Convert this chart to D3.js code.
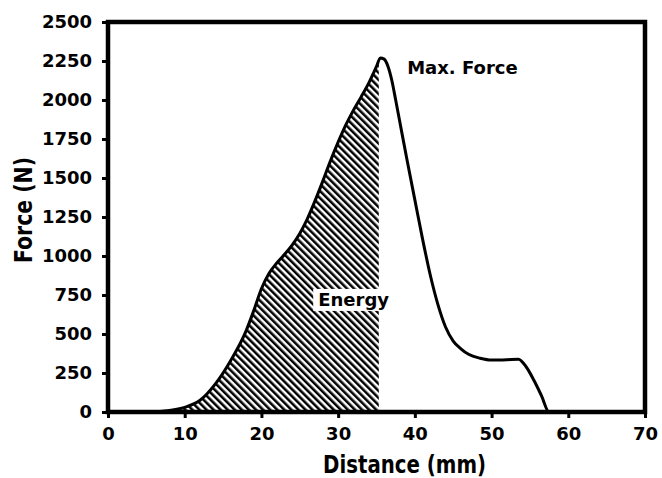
<!DOCTYPE html>
<html>
<head>
<meta charset="utf-8">
<script src="https://cdn.jsdelivr.net/npm/d3@7"></script>
<style>
body { margin: 0; background: #fff; }
</style>
</head>
<body>
<script>
// force-distance curve
var distance = [0, 5, 8, 10, 12, 14, 16, 18, 19, 20, 21, 22, 23, 24, 25, 26, 27, 28, 29, 30, 31, 32, 33, 34, 35, 35.5, 36, 36.5, 37, 37.5, 38, 39, 40, 41, 42, 43, 44, 45, 46, 47, 48.5, 50, 52, 53.5, 54.5, 55.5, 56.5, 57.5, 60, 70];
var force = [0, 0, 10, 30, 75, 180, 330, 520, 650, 790, 890, 955, 1010, 1070, 1145, 1240, 1355, 1480, 1610, 1730, 1840, 1935, 2020, 2110, 2215, 2270, 2262, 2215, 2125, 2000, 1870, 1610, 1360, 1110, 880, 690, 545, 455, 405, 370, 345, 333, 335, 338, 290, 205, 105, 0, 0, 0];
var energyEnd = 35.3;
var xTicks = [0, 10, 20, 30, 40, 50, 60, 70];
var yTicks = [0, 250, 500, 750, 1000, 1250, 1500, 1750, 2000, 2250, 2500];
var xTitle = "Distance (mm)";
var yTitle = "Force (N)";
var peakLabel = "Max. Force";
var areaLabel = "Energy";

var width = 662;
var height = 478;
var margin = {left: 108, top: 22, right: 17, bottom: 66};

var data = distance.map(function(d, i){ return {x: d, y: force[i]}; });

var x = d3.scaleLinear().domain([0, 70]).range([margin.left, width - margin.right]);
var y = d3.scaleLinear().domain([0, 2500]).range([height - margin.bottom, margin.top]);

var svg = d3.select("body").append("svg").attr("width", width).attr("height", height);

var defs = svg.append("defs");
var pat = defs.append("pattern")
    .attr("id", "hatch")
    .attr("patternUnits", "userSpaceOnUse")
    .attr("width", 5).attr("height", 5)
    .attr("patternTransform", "rotate(-45)");
pat.append("rect").attr("width", 5).attr("height", 5).attr("fill", "white");
pat.append("line")
    .attr("x1", 1.25).attr("y1", 0).attr("x2", 1.25).attr("y2", 5)
    .attr("stroke", "black").attr("stroke-width", 2.6);

defs.append("clipPath").attr("id", "energyClip")
    .append("rect")
    .attr("x", x(0)).attr("y", y(2500))
    .attr("width", x(energyEnd) - x(0))
    .attr("height", y(0) - y(2500));

var area = d3.area()
    .x(function(d){ return x(d.x); })
    .y0(y(0))
    .y1(function(d){ return y(d.y); })
    .curve(d3.curveMonotoneX);

var line = d3.line()
    .x(function(d){ return x(d.x); })
    .y(function(d){ return y(d.y); })
    .curve(d3.curveMonotoneX);

svg.append("path")
    .datum(data)
    .attr("d", area)
    .attr("fill", "url(#hatch)")
    .attr("clip-path", "url(#energyClip)");

svg.append("path")
    .datum(data)
    .attr("d", line)
    .attr("fill", "none")
    .attr("stroke", "black")
    .attr("stroke-width", 3)
    .attr("stroke-linejoin", "round");

// axes
var xAxis = svg.append("g")
    .attr("transform", "translate(0," + y(0) + ")")
    .call(d3.axisBottom(x).tickValues(xTicks).tickFormat(d3.format("d")).tickSize(6).tickPadding(9));
var yAxis = svg.append("g")
    .attr("transform", "translate(" + x(0) + ",0)")
    .call(d3.axisLeft(y).tickValues(yTicks).tickFormat(d3.format("d")).tickSize(6).tickPadding(10));

[xAxis, yAxis].forEach(function(g){
    g.select(".domain").remove();
    g.selectAll(".tick line").attr("stroke", "black").attr("stroke-width", 3);
    g.selectAll(".tick text")
        .attr("fill", "black")
        .style("font-family", "'DejaVu Sans', sans-serif")
        .style("font-weight", "bold")
        .style("font-size", "18px");
});

// frame
svg.append("rect")
    .attr("x", x(0)).attr("y", y(2500))
    .attr("width", x(70) - x(0))
    .attr("height", y(0) - y(2500))
    .attr("fill", "none")
    .attr("stroke", "black")
    .attr("stroke-width", 4.5);

// labels
var eText = svg.append("text")
    .attr("x", x(27.4)).attr("y", y(680))
    .style("font-family", "'DejaVu Sans', sans-serif")
    .style("font-weight", "bold")
    .style("font-size", "18px")
    .text(areaLabel);
var bb = eText.node().getBBox();
svg.insert("rect", function(){ return eText.node(); })
    .attr("x", bb.x - 5).attr("y", bb.y)
    .attr("width", bb.width + 6).attr("height", bb.height + 1)
    .attr("fill", "white");

svg.append("text")
    .attr("x", x(39)).attr("y", y(2165))
    .style("font-family", "'DejaVu Sans', sans-serif")
    .style("font-weight", "bold")
    .style("font-size", "18px")
    .text(peakLabel);

svg.append("text")
    .attr("x", (x(0) + x(70)) / 2 + 28).attr("y", 473)
    .attr("text-anchor", "middle")
    .attr("textLength", 163)
    .attr("lengthAdjust", "spacingAndGlyphs")
    .style("font-family", "'DejaVu Sans Condensed', 'DejaVu Sans', sans-serif")
    .style("font-weight", "bold")
    .style("font-size", "25px")
    .text(xTitle);

svg.append("text")
    .attr("transform", "translate(32," + 210 + ") rotate(-90)")
    .attr("text-anchor", "middle")
    .attr("textLength", 106)
    .attr("lengthAdjust", "spacingAndGlyphs")
    .style("font-family", "'DejaVu Sans Condensed', 'DejaVu Sans', sans-serif")
    .style("font-weight", "bold")
    .style("font-size", "25px")
    .text(yTitle);
</script>
</body>
</html>
